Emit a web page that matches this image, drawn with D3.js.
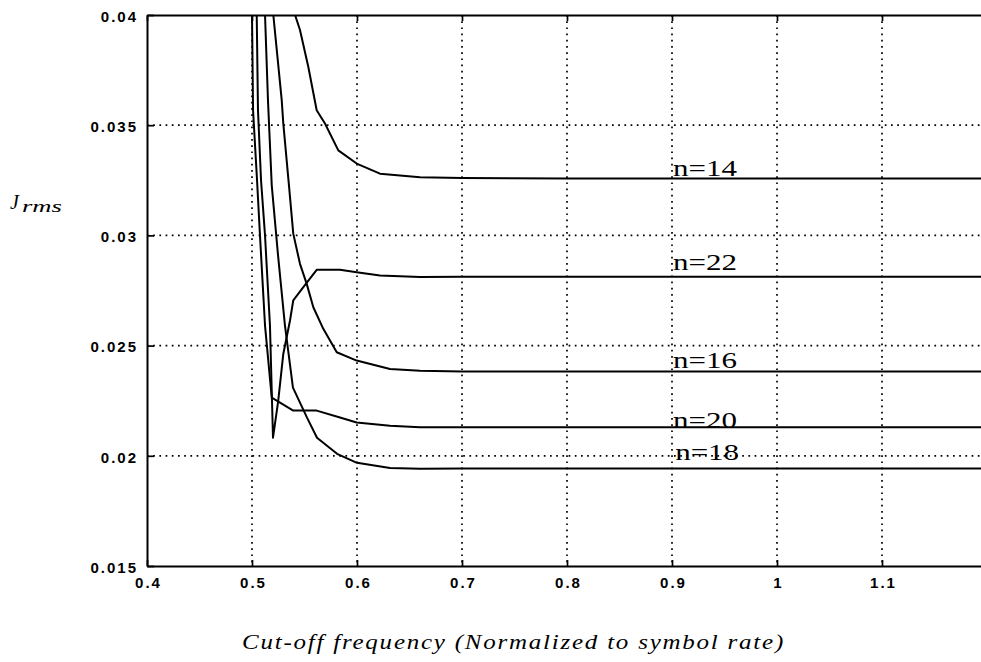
<!DOCTYPE html>
<html><head><meta charset="utf-8">
<script src="https://cdn.jsdelivr.net/npm/d3@7"></script>
<style>body{margin:0;background:#fff} svg{display:block}</style>
</head><body>
<svg id="chart" width="981" height="662"></svg>
<script>
// ---------- data ----------
const xTicks = [0.4, 0.5, 0.6, 0.7, 0.8, 0.9, 1.0, 1.1];
const xTickLabels = ["0.4", "0.5", "0.6", "0.7", "0.8", "0.9", "1", "1.1"];
const yTicks = [0.015, 0.02, 0.025, 0.03, 0.035, 0.04];
const yTickLabels = ["0.015", "0.02", "0.025", "0.03", "0.035", "0.04"];

const seriesNames = ["n=14", "n=16", "n=18", "n=20", "n=22"];

const n14x = [0.5410, 0.5457, 0.5536, 0.5616, 0.5695, 0.5822, 0.5997, 0.6219, 0.6600, 0.7000, 0.8000, 1.2000];
const n14y = [0.0400, 0.03932, 0.03765, 0.03568, 0.03508, 0.03386, 0.03326, 0.03280, 0.03264, 0.03260, 0.03258, 0.03258];

const n16x = [0.5203, 0.5283, 0.5298, 0.5352, 0.5393, 0.5457, 0.5521, 0.5584, 0.5679, 0.5807, 0.5997, 0.6314, 0.6600, 0.7000, 1.2000];
const n16y = [0.0400, 0.03614, 0.03508, 0.03227, 0.03008, 0.02871, 0.02780, 0.02674, 0.02576, 0.02470, 0.02432, 0.02394, 0.02386, 0.02383, 0.02383];

const n18x = [0.5124, 0.5152, 0.5188, 0.5248, 0.5314, 0.5390, 0.5524, 0.5619, 0.5810, 0.6000, 0.6314, 0.6600, 0.7000, 1.2000];
const n18y = [0.0400, 0.03614, 0.03227, 0.02909, 0.02591, 0.02309, 0.02173, 0.02082, 0.02009, 0.01968, 0.01945, 0.01941, 0.01942, 0.01942];

const n20x = [0.5000, 0.5010, 0.5048, 0.5076, 0.5124, 0.5188, 0.5393, 0.5616, 0.5838, 0.5997, 0.6314, 0.6600, 0.7000, 1.2000];
const n20y = [0.0400, 0.03568, 0.03250, 0.03000, 0.02591, 0.02264, 0.02205, 0.02205, 0.02174, 0.02151, 0.02136, 0.02130, 0.02129, 0.02129];

const n22x = [0.5045, 0.5057, 0.5086, 0.5124, 0.5171, 0.5200, 0.5250, 0.5298, 0.5362, 0.5393, 0.5489, 0.5616, 0.5838, 0.5997, 0.6219, 0.6600, 0.7000, 1.2000];
const n22y = [0.0400, 0.03568, 0.03250, 0.03000, 0.02591, 0.02082, 0.02250, 0.02462, 0.02614, 0.02705, 0.02765, 0.02844, 0.02844, 0.02833, 0.02818, 0.02811, 0.02812, 0.02812];

// label anchors (data units)
const labelX = [0.901, 0.901, 0.903, 0.901, 0.901];
const labelY = [0.03268, 0.02400, 0.01982, 0.02127, 0.02841];

const xTitle = "Cut-off frequency (Normalized to symbol rate)";

// ---------- chart ----------
const svg = d3.select("#chart");
const x = d3.scaleLinear().domain([0.4, 1.2]).range([147, 987]);
const y = d3.scaleLinear().domain([0.015, 0.04]).range([566, 15]);

const seriesX = [n14x, n16x, n18x, n20x, n22x];
const seriesY = [n14y, n16y, n18y, n20y, n22y];

svg.append("defs").append("clipPath").attr("id", "plotclip")
  .append("rect").attr("x", x(0.4)).attr("y", y(0.04))
  .attr("width", x(1.2) - x(0.4)).attr("height", y(0.015) - y(0.04));

// grid
const grid = svg.append("g").attr("stroke", "#000").attr("stroke-width", 1.7)
  .attr("stroke-dasharray", "1.7,4.5").attr("fill", "none");
grid.selectAll("line.gx").data(xTicks.filter(v => v > 0.4)).join("line")
  .attr("x1", d => x(d)).attr("x2", d => x(d)).attr("y1", y(0.04)).attr("y2", y(0.015));
grid.selectAll("line.gy").data(yTicks.filter(v => v > 0.015 && v < 0.04)).join("line")
  .attr("y1", d => y(d)).attr("y2", d => y(d)).attr("x1", x(0.4)).attr("x2", x(1.2));

// axes
const tickFont = "'Liberation Sans', Arial, sans-serif";
const xAxis = d3.axisBottom(x).tickValues(xTicks)
  .tickFormat((d, i) => xTickLabels[i]).tickSizeInner(-6).tickSizeOuter(0).tickPadding(11);
const gx = svg.append("g").attr("transform", `translate(0,${y(0.015)})`).call(xAxis);
const yAxis = d3.axisLeft(y).tickValues(yTicks)
  .tickFormat((d, i) => yTickLabels[i]).tickSizeInner(-7).tickSizeOuter(0).tickPadding(9);
const gy = svg.append("g").attr("transform", `translate(${x(0.4)},0)`).call(yAxis);
const topAxis = d3.axisTop(x).tickValues(xTicks).tickFormat("").tickSizeInner(-6).tickSizeOuter(0);
const gt = svg.append("g").attr("transform", `translate(0,${y(0.04)})`).call(topAxis);

[gx, gy, gt].forEach(g => {
  g.select(".domain").attr("stroke", "#000").attr("stroke-width", 2);
  g.selectAll(".tick line").attr("stroke", "#000").attr("stroke-width", 1.7);
  g.selectAll("text").attr("fill", "#000")
    .style("font-family", tickFont).style("font-size", "15px")
    .style("font-weight", "bold").style("letter-spacing", "2px");
});
gx.selectAll(".tick text").attr("dx", "1px");
gy.selectAll(".tick text").attr("dy", "0.42em");

// curves
const line = d3.line().x(d => x(d[0])).y(d => y(d[1]));
const curves = svg.append("g").attr("clip-path", "url(#plotclip)");
seriesX.forEach((xs, i) => {
  const pts = xs.map((v, j) => [v, seriesY[i][j]]);
  curves.append("path").datum(pts).attr("d", line)
    .attr("fill", "none").attr("stroke", "#000").attr("stroke-width", 2)
    .attr("stroke-linejoin", "round");
});

// series labels
const serif = "'Liberation Serif', 'Times New Roman', serif";
svg.append("g").selectAll("text").data(seriesNames).join("text")
  .attr("x", (d, i) => x(labelX[i])).attr("y", (d, i) => y(labelY[i]))
  .attr("textLength", 64).attr("lengthAdjust", "spacingAndGlyphs")
  .style("font-family", serif).style("font-size", "23px").attr("fill", "#000")
  .text(d => d);

// y label J_rms
const yl = svg.append("text").attr("x", 10).attr("y", 209)
  .style("font-family", serif).style("font-style", "italic").attr("fill", "#000");
yl.append("tspan").style("font-size", "20px").text("J");
yl.append("tspan").attr("x", 22).attr("dy", 3).style("font-size", "17px")
  .attr("textLength", 40).attr("lengthAdjust", "spacingAndGlyphs").text("rms");

// x title
svg.append("text").attr("x", 242).attr("y", 649)
  .attr("textLength", 543).attr("lengthAdjust", "spacingAndGlyphs")
  .style("font-family", serif).style("font-style", "italic").style("font-size", "21px")
  .style("letter-spacing", "1.5px")
  .attr("fill", "#000").text(xTitle);
</script>
</body></html>
